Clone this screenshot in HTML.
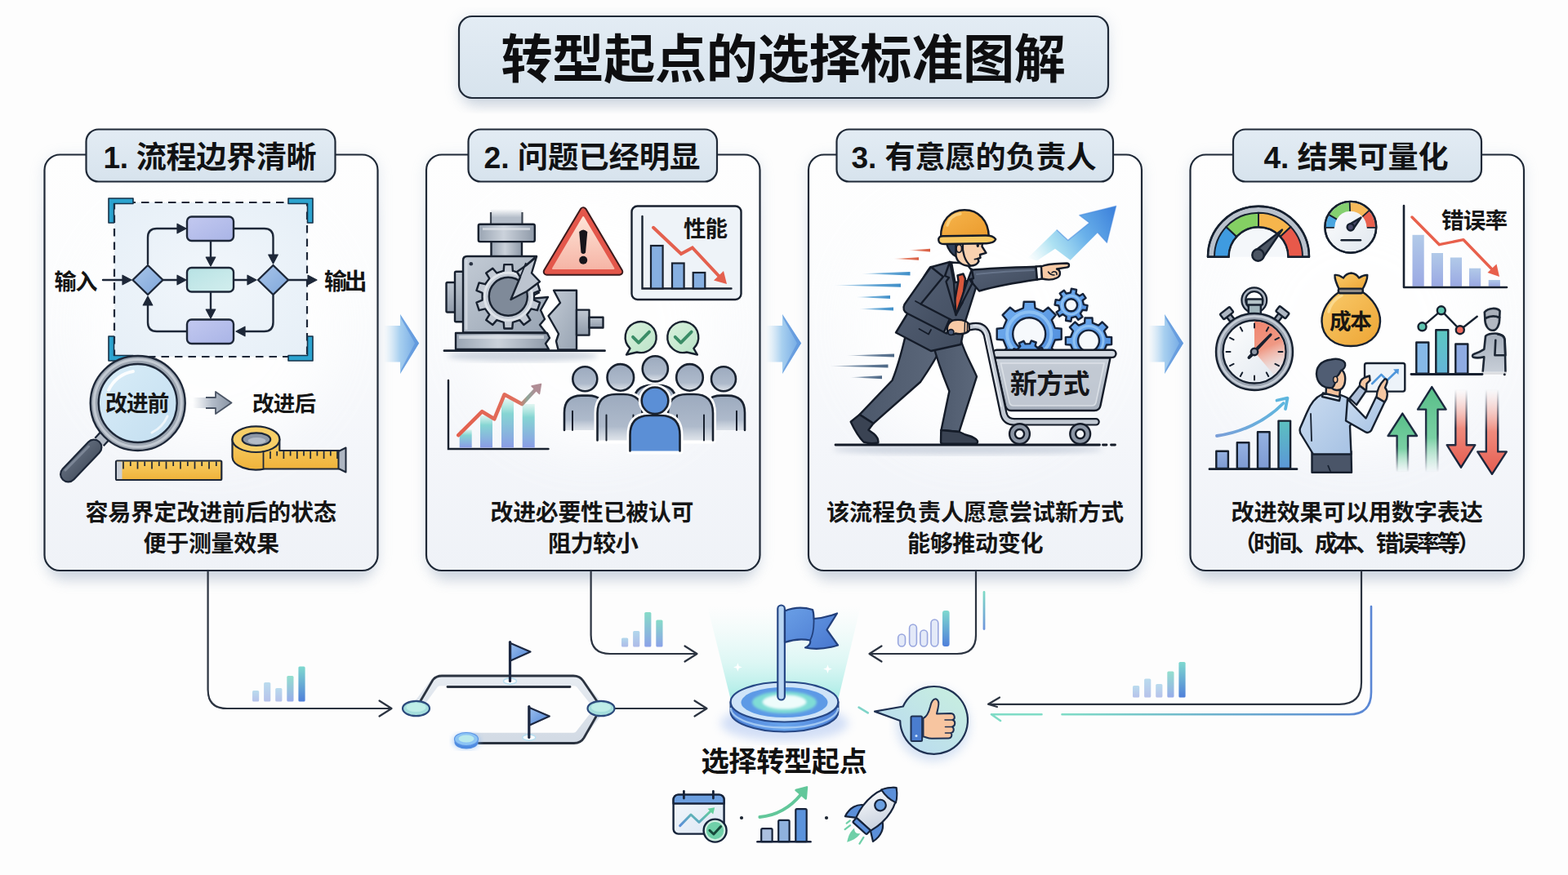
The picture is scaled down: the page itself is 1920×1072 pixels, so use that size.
<!DOCTYPE html>
<html lang="zh"><head><meta charset="utf-8"><title>转型起点的选择标准图解</title>
<style>html,body{margin:0;padding:0;background:#fdfdfd;font-family:"Liberation Sans","Noto Sans CJK SC",sans-serif}
svg{display:block}.t{stroke:none;font-family:"Liberation Sans","Noto Sans CJK SC",sans-serif;font-weight:bold}</style></head>
<body><svg width="1920" height="1072" viewBox="0 0 1920 1072">
<defs>
<linearGradient id="gPanel" x1="0" y1="0" x2="0" y2="1"><stop offset="0" stop-color="#fefefe"/><stop offset=".35" stop-color="#fbfcfd"/><stop offset=".7" stop-color="#f4f6fa"/><stop offset="1" stop-color="#eff2f7"/></linearGradient>
<linearGradient id="gTab" x1="0" y1="0" x2="0" y2="1"><stop offset="0" stop-color="#e3ecf4"/><stop offset="1" stop-color="#d7e3ed"/></linearGradient>
<linearGradient id="gArrow" x1="0" y1="0" x2="1" y2="0"><stop offset="0" stop-color="#b9d8f0" stop-opacity="0"/><stop offset=".45" stop-color="#9fcbee" stop-opacity=".9"/><stop offset="1" stop-color="#6aa3e2"/></linearGradient>
<filter id="fShadow" x="-10%" y="-10%" width="120%" height="125%"><feGaussianBlur in="SourceAlpha" stdDeviation="9"/><feOffset dy="8"/><feComponentTransfer><feFuncA type="linear" slope=".30"/></feComponentTransfer><feFlood flood-color="#7f93b3" result="c"/><feComposite in="c" in2="SourceAlpha" operator="in"/></filter>
<filter id="fBlur30" x="-30%" y="-30%" width="160%" height="160%"><feGaussianBlur stdDeviation="32"/></filter>
<filter id="fBlur8" x="-10%" y="-10%" width="120%" height="120%"><feGaussianBlur stdDeviation="8"/></filter>
<filter id="fBlur6"><feGaussianBlur stdDeviation="6"/></filter>
<filter id="fBlur3"><feGaussianBlur stdDeviation="3"/></filter>
<filter id="fBlur2"><feGaussianBlur stdDeviation="1.6"/></filter>

<linearGradient id="gMini" x1="0" y1="0" x2="0" y2="1"><stop offset="0" stop-color="#79d8c2"/><stop offset="1" stop-color="#7f97e6"/></linearGradient>
<linearGradient id="gMiniL" x1="0" y1="0" x2="0" y2="1"><stop offset="0" stop-color="#a9d3ea"/><stop offset="1" stop-color="#a5b3e6"/></linearGradient>
<linearGradient id="gMiniS" x1="0" y1="0" x2="0" y2="1"><stop offset="0" stop-color="#7fd9cf"/><stop offset="1" stop-color="#4f7fda"/></linearGradient>
<linearGradient id="gTeal4" x1="0" y1="0" x2="1" y2="0"><stop offset="0" stop-color="#7fdcc6"/><stop offset="1" stop-color="#5a86d4"/></linearGradient>
<linearGradient id="gTeal3" x1="0" y1="0" x2="0" y2="1"><stop offset="0" stop-color="#7fdcc6"/><stop offset="1" stop-color="#6d93dc"/></linearGradient>
<linearGradient id="gCone" x1="0" y1="1" x2="0" y2="0"><stop offset="0" stop-color="#8fe6de" stop-opacity=".8"/><stop offset=".4" stop-color="#b0eee8" stop-opacity=".42"/><stop offset="1" stop-color="#d0f5f2" stop-opacity="0"/></linearGradient>
<linearGradient id="gDiscSide" x1="0" y1="0" x2="1" y2="0"><stop offset="0" stop-color="#4d80d6"/><stop offset=".5" stop-color="#6aa6ee"/><stop offset="1" stop-color="#4d80d6"/></linearGradient>
<linearGradient id="gFlag" x1="0" y1="0" x2="1" y2="1"><stop offset="0" stop-color="#6a9fe6"/><stop offset="1" stop-color="#4877cf"/></linearGradient>
<linearGradient id="gFlagS" x1="0" y1="0" x2="1" y2="1"><stop offset="0" stop-color="#9cc0ee"/><stop offset="1" stop-color="#4f84d6"/></linearGradient>
<linearGradient id="gBubble" x1="1" y1="0" x2="0" y2="1"><stop offset="0" stop-color="#c9f0de"/><stop offset="1" stop-color="#b6d6f3"/></linearGradient>
<linearGradient id="gTrack" x1="0" y1="0" x2="0" y2="1"><stop offset="0" stop-color="#e6ebf1"/><stop offset="1" stop-color="#d3dbe5"/></linearGradient>

<linearGradient id="gZig" x1="0" y1="1" x2="1" y2="0"><stop offset="0" stop-color="#5b8fd9"/><stop offset="1" stop-color="#62cf9c"/></linearGradient>
<linearGradient id="gRocket" x1="0" y1="0" x2="1" y2="1"><stop offset="0" stop-color="#ffffff"/><stop offset="1" stop-color="#c5cfdd"/></linearGradient>
<linearGradient id="gCal" x1="0" y1="0" x2="1" y2="1"><stop offset="0" stop-color="#f4f8fc"/><stop offset="1" stop-color="#dbe6f3"/></linearGradient>

<linearGradient id="gLens" x1="0" y1="0" x2="1" y2="1"><stop offset="0" stop-color="#d9edf8"/><stop offset="1" stop-color="#c3def0"/></linearGradient>
<linearGradient id="gHandle" x1="0" y1="0" x2="1" y2="1"><stop offset="0" stop-color="#6b7687"/><stop offset="1" stop-color="#3f4958"/></linearGradient>
<linearGradient id="gPurple" x1="0" y1="0" x2="1" y2="1"><stop offset="0" stop-color="#c3c9f0"/><stop offset="1" stop-color="#a9b4e6"/></linearGradient>
<linearGradient id="gTealBox" x1="0" y1="0" x2="1" y2="1"><stop offset="0" stop-color="#b7e2e4"/><stop offset="1" stop-color="#d3eeee"/></linearGradient>
<linearGradient id="gDia" x1="0" y1="0" x2="1" y2="1"><stop offset="0" stop-color="#a9c6ea"/><stop offset="1" stop-color="#7fa6da"/></linearGradient>
<linearGradient id="gGrayArrow" x1="0" y1="0" x2="1" y2="0"><stop offset="0" stop-color="#b9c2ce" stop-opacity="0"/><stop offset=".5" stop-color="#b3bcc9"/><stop offset="1" stop-color="#8893a3"/></linearGradient>
<linearGradient id="gYellow" x1="0" y1="0" x2="0" y2="1"><stop offset="0" stop-color="#f8cd62"/><stop offset="1" stop-color="#efb23a"/></linearGradient>
<radialGradient id="gDash" cx=".5" cy=".5" r=".7"><stop offset="0" stop-color="#f1f6fb"/><stop offset="1" stop-color="#e6eff7"/></radialGradient>

<linearGradient id="gSteel" x1="0" y1="0" x2="1" y2="1"><stop offset="0" stop-color="#c3cbd5"/><stop offset="1" stop-color="#98a4b3"/></linearGradient>
<linearGradient id="gSteelH" x1="0" y1="0" x2="1" y2="0"><stop offset="0" stop-color="#9aa5b3"/><stop offset=".45" stop-color="#cbd2db"/><stop offset="1" stop-color="#8e99a8"/></linearGradient>
<linearGradient id="gSteelV" x1="0" y1="0" x2="0" y2="1"><stop offset="0" stop-color="#c0c8d2"/><stop offset="1" stop-color="#8f9aa9"/></linearGradient>
<linearGradient id="gPipeTop" x1="0" y1="0" x2="0" y2="1"><stop offset="0" stop-color="#b4bdc9" stop-opacity="0"/><stop offset=".5" stop-color="#b4bdc9" stop-opacity="1"/></linearGradient>
<linearGradient id="gWarn" x1="0" y1="0" x2="0" y2="1"><stop offset="0" stop-color="#fde3d6"/><stop offset="1" stop-color="#f6b5a6"/></linearGradient>
<linearGradient id="gGrowBar" x1="0" y1="0" x2="0" y2="1"><stop offset="0" stop-color="#8fe0cf" stop-opacity=".25"/><stop offset=".3" stop-color="#86d5d3"/><stop offset="1" stop-color="#8a9ce6"/></linearGradient>
<linearGradient id="gPerson" x1="0" y1="0" x2="0" y2="1"><stop offset="0" stop-color="#9caabe"/><stop offset=".7" stop-color="#aebacb"/><stop offset="1" stop-color="#c3ccd8" stop-opacity=".55"/></linearGradient>
<linearGradient id="gChk" x1="0" y1="0" x2="1" y2="1"><stop offset="0" stop-color="#d9f1dc"/><stop offset="1" stop-color="#b9e3c8"/></linearGradient>
<linearGradient id="gRedLine" x1="0" y1="0" x2="1" y2="0"><stop offset="0" stop-color="#e4604e"/><stop offset=".78" stop-color="#e0705e"/><stop offset=".9" stop-color="#8fa79a"/><stop offset="1" stop-color="#b08d95"/></linearGradient>

<linearGradient id="gBlueArrow" gradientUnits="userSpaceOnUse" x1="1258" y1="318" x2="1362" y2="256"><stop offset="0" stop-color="#bfeaf4" stop-opacity="0"/><stop offset=".3" stop-color="#9fdcf0" stop-opacity=".85"/><stop offset=".62" stop-color="#6ab1ea"/><stop offset="1" stop-color="#3f84dc"/></linearGradient>
<linearGradient id="gHelmet" x1="0" y1="0" x2="1" y2="1"><stop offset="0" stop-color="#f7b64e"/><stop offset="1" stop-color="#ea9a2c"/></linearGradient>
<linearGradient id="gSuit" x1="0" y1="0" x2="1" y2="1"><stop offset="0" stop-color="#566277"/><stop offset="1" stop-color="#3f4a5c"/></linearGradient>
<linearGradient id="gPants" x1="0" y1="0" x2="1" y2="0"><stop offset="0" stop-color="#4c586b"/><stop offset="1" stop-color="#5c687b"/></linearGradient>
<linearGradient id="gCart" x1="0" y1="0" x2="0" y2="1"><stop offset="0" stop-color="#c9d0d9"/><stop offset="1" stop-color="#a5aebb"/></linearGradient>
<linearGradient id="gGear" x1="0" y1="0" x2="1" y2="1"><stop offset="0" stop-color="#73aff0"/><stop offset="1" stop-color="#4c8ada"/></linearGradient>
<linearGradient id="gSpB" x1="0" y1="0" x2="1" y2="0"><stop offset="0" stop-color="#4f9bd0" stop-opacity=".15"/><stop offset=".45" stop-color="#4f9bd0" stop-opacity=".8"/><stop offset="1" stop-color="#3f8ec8"/></linearGradient>
<linearGradient id="gSpR" x1="0" y1="0" x2="1" y2="0"><stop offset="0" stop-color="#e0684a" stop-opacity=".15"/><stop offset=".45" stop-color="#e0684a" stop-opacity=".8"/><stop offset="1" stop-color="#d85a3e"/></linearGradient>
<linearGradient id="gSpD" x1="0" y1="0" x2="1" y2="0"><stop offset="0" stop-color="#54708f" stop-opacity=".15"/><stop offset=".45" stop-color="#54708f" stop-opacity=".8"/><stop offset="1" stop-color="#4d6785"/></linearGradient>

<linearGradient id="gUp" x1="0" y1="0" x2="0" y2="1"><stop offset="0" stop-color="#58be88"/><stop offset=".6" stop-color="#7ad0a4"/><stop offset="1" stop-color="#a9e4c8" stop-opacity="0"/></linearGradient>
<linearGradient id="gUpS" x1="0" y1="0" x2="0" y2="1"><stop offset="0" stop-color="#16233a"/><stop offset=".55" stop-color="#16233a" stop-opacity=".9"/><stop offset="1" stop-color="#16233a" stop-opacity="0"/></linearGradient>
<linearGradient id="gDn" x1="0" y1="1" x2="0" y2="0"><stop offset="0" stop-color="#e55c50"/><stop offset=".5" stop-color="#ef8a7c"/><stop offset="1" stop-color="#f8c0b6" stop-opacity="0"/></linearGradient>
<linearGradient id="gDnS" x1="0" y1="1" x2="0" y2="0"><stop offset="0" stop-color="#16233a"/><stop offset=".5" stop-color="#16233a" stop-opacity=".9"/><stop offset="1" stop-color="#16233a" stop-opacity="0"/></linearGradient>
<linearGradient id="gBag" x1="0" y1="0" x2="1" y2="1"><stop offset="0" stop-color="#f9cb6c"/><stop offset="1" stop-color="#eda433"/></linearGradient>
<linearGradient id="gErrBar" x1="0" y1="0" x2="0" y2="1"><stop offset="0" stop-color="#a9c4e6"/><stop offset="1" stop-color="#8f9fe0"/></linearGradient>
<linearGradient id="gWedge" x1="0" y1="0" x2=".25" y2="1"><stop offset="0" stop-color="#ee7a62"/><stop offset=".55" stop-color="#f0917a"/><stop offset="1" stop-color="#f6c4b6" stop-opacity=".25"/></linearGradient>
<linearGradient id="gFace" x1="0" y1="0" x2="1" y2="1"><stop offset="0" stop-color="#ffffff"/><stop offset="1" stop-color="#dfe6ee"/></linearGradient>
<linearGradient id="gShirt" x1="0" y1="0" x2="1" y2="1"><stop offset="0" stop-color="#cbdcf0"/><stop offset="1" stop-color="#a5c1e3"/></linearGradient>
<linearGradient id="gBarA" x1="0" y1="0" x2="0" y2="1"><stop offset="0" stop-color="#96b2e2"/><stop offset="1" stop-color="#7d9ad2"/></linearGradient>
<linearGradient id="gBarT" x1="0" y1="0" x2="0" y2="1"><stop offset="0" stop-color="#5cc0c0"/><stop offset="1" stop-color="#5b97d8"/></linearGradient>
<linearGradient id="gBarT2" x1="0" y1="0" x2="0" y2="1"><stop offset="0" stop-color="#5cc8c2"/><stop offset="1" stop-color="#64b4d8"/></linearGradient>
<linearGradient id="gCurve" x1="0" y1="0" x2="1" y2="0"><stop offset="0" stop-color="#7a9ed8"/><stop offset="1" stop-color="#5fb6de"/></linearGradient>
<linearGradient id="gGrayP" x1="0" y1="0" x2="0" y2="1"><stop offset="0" stop-color="#a4adba"/><stop offset="1" stop-color="#c9d0d9"/></linearGradient>
</defs>
<rect width="1920" height="1072" fill="#fdfdfd"/>
<rect x="559" y="20" width="801" height="106" rx="19" fill="#93abc6" opacity="0.22" filter="url(#fBlur8)"/>
<rect x="568" y="40" width="783" height="90" rx="16" fill="#8b9bb2" opacity="0.3" filter="url(#fBlur8)"/>
<rect x="562" y="20" width="795" height="100" rx="16" fill="url(#gTab)" stroke="#1f2937" stroke-width="2.2"/>
<text x="613.5" y="94.8" font-size="63.2" textLength="691.5" fill="#0e0e10" class="t">转型起点的选择标准图解</text>
<rect x="51.5" y="189.5" width="414" height="515.5" rx="23" fill="#93abc6" opacity="0.2" filter="url(#fBlur8)"/>
<rect x="60.5" y="242.5" width="396" height="469.5" rx="20" fill="#8b9bb2" opacity="0.3" filter="url(#fBlur8)"/>
<rect x="519" y="189.5" width="414.5" height="515.5" rx="23" fill="#93abc6" opacity="0.2" filter="url(#fBlur8)"/>
<rect x="528" y="242.5" width="396.5" height="469.5" rx="20" fill="#8b9bb2" opacity="0.3" filter="url(#fBlur8)"/>
<rect x="987" y="189.5" width="414" height="515.5" rx="23" fill="#93abc6" opacity="0.2" filter="url(#fBlur8)"/>
<rect x="996" y="242.5" width="396" height="469.5" rx="20" fill="#8b9bb2" opacity="0.3" filter="url(#fBlur8)"/>
<rect x="1454.5" y="189.5" width="414.5" height="515.5" rx="23" fill="#93abc6" opacity="0.2" filter="url(#fBlur8)"/>
<rect x="1463.5" y="242.5" width="396.5" height="469.5" rx="20" fill="#8b9bb2" opacity="0.3" filter="url(#fBlur8)"/>
<rect x="54.5" y="189.5" width="408" height="509.5" rx="19" fill="url(#gPanel)" stroke="#1f2937" stroke-width="2.2"/>
<rect x="522" y="189.5" width="408.5" height="509.5" rx="19" fill="url(#gPanel)" stroke="#1f2937" stroke-width="2.2"/>
<rect x="990" y="189.5" width="408" height="509.5" rx="19" fill="url(#gPanel)" stroke="#1f2937" stroke-width="2.2"/>
<rect x="1457.5" y="189.5" width="408.5" height="509.5" rx="19" fill="url(#gPanel)" stroke="#1f2937" stroke-width="2.2"/>
<ellipse cx="258.5" cy="400" rx="150" ry="150" fill="#ffffff" opacity=".85" filter="url(#fBlur30)"/>
<ellipse cx="726.25" cy="400" rx="150" ry="150" fill="#ffffff" opacity=".85" filter="url(#fBlur30)"/>
<ellipse cx="1194" cy="400" rx="150" ry="150" fill="#ffffff" opacity=".85" filter="url(#fBlur30)"/>
<ellipse cx="1661.75" cy="400" rx="150" ry="150" fill="#ffffff" opacity=".85" filter="url(#fBlur30)"/>
<rect x="105.5" y="158.5" width="305" height="64" rx="15" fill="url(#gTab)" stroke="#1f2937" stroke-width="2.2"/>
<text x="126.5" y="205.8" font-size="37.1" textLength="261.0" fill="#111214" class="t">1. 流程边界清晰</text>
<rect x="573.5" y="158.5" width="304.5" height="64" rx="15" fill="url(#gTab)" stroke="#1f2937" stroke-width="2.2"/>
<text x="592.5" y="206.0" font-size="37.4" textLength="265.0" fill="#111214" class="t">2. 问题已经明显</text>
<rect x="1024.5" y="158.5" width="338.5" height="64" rx="15" fill="url(#gTab)" stroke="#1f2937" stroke-width="2.2"/>
<text x="1042.5" y="206.0" font-size="37.1" textLength="300.0" fill="#111214" class="t">3. 有意愿的负责人</text>
<rect x="1510" y="158.5" width="304" height="64" rx="15" fill="url(#gTab)" stroke="#1f2937" stroke-width="2.2"/>
<text x="1547.5" y="206.0" font-size="37.1" textLength="226.0" fill="#111214" class="t">4. 结果可量化</text>
<path d="M470 399 H490 V385 L513 420.5 L490 458 V443.5 H470 Z" fill="url(#gArrow)"/><path d="M490 385 L513 420.5 L490 458 L491.5 452 L508 420.5 L491.5 391 Z" fill="#5f96dc" opacity=".75"/>
<path d="M938 399 H958 V385 L981 420.5 L958 458 V443.5 H938 Z" fill="url(#gArrow)"/><path d="M958 385 L981 420.5 L958 458 L959.5 452 L976 420.5 L959.5 391 Z" fill="#5f96dc" opacity=".75"/>
<path d="M1406 399 H1426 V385 L1449 420.5 L1426 458 V443.5 H1406 Z" fill="url(#gArrow)"/><path d="M1426 385 L1449 420.5 L1426 458 L1427.5 452 L1444 420.5 L1427.5 391 Z" fill="#5f96dc" opacity=".75"/>
<text x="104.4" y="638.0" font-size="28.1" textLength="307.6" fill="#151515" class="t">容易界定改进前后的状态</text>
<text x="175.5" y="676.2" font-size="28.0" textLength="166.5" fill="#151515" class="t">便于测量效果</text>
<text x="600.5" y="637.8" font-size="27.9" textLength="249.0" fill="#151515" class="t">改进必要性已被认可</text>
<text x="671.0" y="676.4" font-size="28.4" textLength="111.0" fill="#151515" class="t">阻力较小</text>
<text x="1012.0" y="638.0" font-size="28.1" textLength="364.0" fill="#151515" class="t">该流程负责人愿意尝试新方式</text>
<text x="1111.0" y="676.3" font-size="28.1" textLength="166.5" fill="#151515" class="t">能够推动变化</text>
<text x="1507.5" y="638.0" font-size="28.2" textLength="308.5" fill="#151515" class="t">改进效果可以用数字表达</text>
<text x="1510.0" y="676.3" font-size="28.4" textLength="303.0" fill="#151515" class="t">（时间、成本、错误率等）</text>
<text x="858.5" y="944.6" font-size="34.3" textLength="203.5" fill="#111" class="t">选择转型起点</text>
<g id="bottom"><g fill="none" stroke="#2b3340" stroke-width="2.2" stroke-linecap="round" stroke-linejoin="round"><path d="M254.6 700 V845 Q254.6 868 278 868 H478"/><path d="M464.5 858.5 L479.5 868 L464.5 877.5"/><path d="M723.6 700 V778 Q723.6 801 747 801 H852"/><path d="M838.5 791.5 L853.5 801 L838.5 810.5"/><path d="M753 868 H864"/><path d="M850.5 858.5 L865.5 868 L850.5 877.5"/><path d="M1195 700 V778 Q1195 801 1172 801 H1066"/><path d="M1079.5 791.5 L1064.5 801 L1079.5 810.5"/><path d="M1667 700 V836 Q1667 862.8 1640 862.8 H1211"/><path d="M1224 854.5 L1210 862.8 L1221 866"/></g><path d="M1679 743 V848 Q1679 875.3 1652 875.3 H1300.5" fill="none" stroke="url(#gTeal4)" stroke-width="2.6" stroke-linecap="round"/><path d="M1275.5 875.3 H1214 M1214 875.3 L1225 883" fill="none" stroke="#7fdcc6" stroke-width="2.6" stroke-linecap="round"/><rect x="1203.6" y="724" width="2.8" height="48" rx="1.4" fill="url(#gTeal3)"/><path d="M1051.6 866.7 L1062.8 873.4" stroke="#7fd4c8" stroke-width="2.6" stroke-linecap="round"/><rect x="309.0" y="846.0" width="8.2" height="13.5" rx="1.6" fill="url(#gMiniL)" opacity="0.8"/><rect x="323.1" y="836.0" width="8.2" height="23.5" rx="1.6" fill="url(#gMiniL)" opacity="0.8"/><rect x="337.2" y="843.0" width="8.2" height="16.5" rx="1.6" fill="url(#gMiniL)" opacity="0.8"/><rect x="351.3" y="828.0" width="8.2" height="31.5" rx="1.6" fill="url(#gMini)" opacity="0.8"/><rect x="365.4" y="816.5" width="8.2" height="43.0" rx="1.6" fill="url(#gMiniS)" opacity="1"/><rect x="761.0" y="781.5" width="8.2" height="11.0" rx="1.6" fill="url(#gMiniL)" opacity="0.9"/><rect x="775.1" y="773.0" width="8.2" height="19.5" rx="1.6" fill="url(#gMiniL)" opacity="0.9"/><rect x="789.2" y="750.0" width="8.2" height="42.5" rx="1.6" fill="url(#gMini)" opacity="0.9"/><rect x="803.3" y="759.5" width="8.2" height="33.0" rx="1.6" fill="url(#gMini)" opacity="0.9"/><rect x="1387.0" y="840.0" width="8.2" height="14.5" rx="1.6" fill="url(#gMiniL)" opacity="0.8"/><rect x="1401.1" y="831.5" width="8.2" height="23.0" rx="1.6" fill="url(#gMiniL)" opacity="0.8"/><rect x="1415.2" y="838.0" width="8.2" height="16.5" rx="1.6" fill="url(#gMiniL)" opacity="0.8"/><rect x="1429.3" y="822.5" width="8.2" height="32.0" rx="1.6" fill="url(#gMini)" opacity="0.8"/><rect x="1443.4" y="811.0" width="8.2" height="43.5" rx="1.6" fill="url(#gMiniS)" opacity="1"/><rect x="1099.7" y="777.0" width="8.8" height="15.0" rx="4.4" fill="#e4eaf8" stroke="#98a6de" stroke-width="1.6"/><rect x="1113.6" y="765.0" width="8.8" height="27.0" rx="4.4" fill="#e4eaf8" stroke="#98a6de" stroke-width="1.6"/><rect x="1126.8" y="772.0" width="8.8" height="20.0" rx="4.4" fill="#e4eaf8" stroke="#98a6de" stroke-width="1.6"/><rect x="1140.0" y="759.0" width="8.8" height="33.0" rx="4.4" fill="#e4eaf8" stroke="#98a6de" stroke-width="1.6"/><rect x="1154.0" y="748.0" width="8.6" height="44.0" rx="3" fill="url(#gMiniS)"/><path d="M509 868 L531 838 Q534 834.3 540 834.3 H702 Q708 834.3 711 838 L735 868 L711 899 Q708 903.8 702 903.8 H572" fill="none" stroke="url(#gTrack)" stroke-width="12" stroke-linejoin="round" stroke-linecap="round"/><path d="M513 862 L530 833 Q534 828 541 828 H702 Q710 828 714 834 L733 862" fill="none" stroke="#2b3340" stroke-width="2.8" stroke-linecap="round"/><path d="M548 841.5 H698" fill="none" stroke="#2b3340" stroke-width="2.8" stroke-linecap="round"/><path d="M731 876 L715 904 Q711 910.5 703 910.5 H586" fill="none" stroke="#2b3340" stroke-width="2.8" stroke-linecap="round"/><ellipse cx="509.5" cy="868" rx="16.5" ry="9.2" fill="#a5dedd" stroke="#2c4a7c" stroke-width="2.2"/><ellipse cx="509.5" cy="866.5" rx="12" ry="5.6" fill="#bfeee8"/><ellipse cx="736" cy="868" rx="16.5" ry="9.2" fill="#a5dedd" stroke="#2c4a7c" stroke-width="2.2"/><ellipse cx="736" cy="866.5" rx="12" ry="5.6" fill="#bfeee8"/><ellipse cx="571" cy="908" rx="17" ry="10" fill="#7db2f2" opacity=".55" filter="url(#fBlur3)"/><ellipse cx="571" cy="909.5" rx="14.5" ry="8" fill="#4f8be0"/><ellipse cx="571" cy="905.5" rx="14.5" ry="8" fill="#8cc4f4" stroke="#5b95e6" stroke-width="1.2"/><ellipse cx="571" cy="905" rx="9.5" ry="4.6" fill="#b9e9ec"/><ellipse cx="624.5" cy="834.5" rx="8" ry="3.6" fill="#fff" stroke="#b9dff0" stroke-width="1.6"/><path d="M624.5 786.5 V834.5" stroke="#1c2740" stroke-width="3.2" stroke-linecap="round"/><path d="M625.1 788 L649.5 798.5 L625.1 809.5 Z" fill="url(#gFlagS)" stroke="#1c2740" stroke-width="2.2" stroke-linejoin="round"/><ellipse cx="647.8" cy="903.5" rx="8" ry="3.6" fill="#fff" stroke="#b9dff0" stroke-width="1.6"/><path d="M647.8 865.5 V903.5" stroke="#1c2740" stroke-width="3.2" stroke-linecap="round"/><path d="M648.4 867 L672.8 877.5 L648.4 888.5 Z" fill="url(#gFlagS)" stroke="#1c2740" stroke-width="2.2" stroke-linejoin="round"/><ellipse cx="960.5" cy="886" rx="78" ry="22" fill="#9db9ee" opacity=".45" filter="url(#fBlur6)"/><path d="M895 858 L866 742 H1054 L1026 858 Z" fill="url(#gCone)"/><path d="M894.6 860 V872 A65.9 24.5 0 0 0 1026.4 872 V860 Z" fill="url(#gDiscSide)" stroke="#274886" stroke-width="2.2" stroke-linejoin="round"/><ellipse cx="960.5" cy="860" rx="65.9" ry="24.5" fill="#cfe4f8" stroke="#274886" stroke-width="2.2"/><ellipse cx="960.5" cy="860.5" rx="53" ry="18.6" fill="#5d9ae6"/><ellipse cx="960.5" cy="860.5" rx="39.5" ry="13.6" fill="#7fdcd6" filter="url(#fBlur2)"/><ellipse cx="960.5" cy="860" rx="27" ry="8.8" fill="#eefcfb" filter="url(#fBlur2)"/><path d="M894.6 867 A65.9 24.5 0 0 0 1026.4 867" fill="none" stroke="#a9cdf4" stroke-width="2.4" opacity=".9"/><rect x="952.3" y="741.5" width="8.6" height="116" rx="4.3" fill="#b9d6f3" stroke="#274886" stroke-width="2.2"/><path d="M961 748.5 C972 744 985 744 995 747 C996.5 751 996.5 755 996.5 758 C1006 757.5 1016 755 1025 751.5 L1012.5 771.5 L1026 790.5 C1012 795 998 796 986 793.5 C991 791 993 788 992 784.5 C982 782.5 971 783.5 961 787 Z" fill="url(#gFlag)" stroke="#22407c" stroke-width="2.2" stroke-linejoin="round"/><path d="M996.5 758 C996.8 768 996 777 992 784.5" fill="none" stroke="#22407c" stroke-width="1.8"/><path d="M903.4 812 l1.4 4 l4 1.4 l-4 1.4 l-1.4 4 l-1.4 -4 l-4 -1.4 l4 -1.4 Z" fill="#fff" opacity=".95"/><path d="M1013.5 814.2 l1.4 4 l4 1.4 l-4 1.4 l-1.4 4 l-1.4 -4 l-4 -1.4 l4 -1.4 Z" fill="#fff" opacity=".95"/><g transform="translate(-1 2)"><circle cx="1143.4" cy="886" r="45" fill="#a9c3e8" opacity=".45" filter="url(#fBlur6)"/><path d="M1106.8 863.5 A41.4 41.4 0 1 1 1103.2 881 L1072 869.6 Z" fill="url(#gBubble)" stroke="#1f3152" stroke-width="2.2" stroke-linejoin="round"/><rect x="1116.5" y="875.6" width="13.6" height="30.4" rx="1.5" fill="#4a7dd0" stroke="#1f3152" stroke-width="2"/><circle cx="1123" cy="899.5" r="1.5" fill="#cfe6ff"/><path d="M1131.5 878 C1136 876 1138.5 870 1140 864 C1141 858 1144 853.5 1147.5 854.5 C1151 856 1150.5 862 1149.5 866 L1148 872.5 L1165 872 C1170 872 1171.5 878.5 1167.5 880 C1171.5 881.5 1171 887.5 1167 888.5 C1170 890.5 1169 895.5 1165.5 896 C1167.5 898.5 1166 902.5 1162.5 902.5 L1142 902.8 C1137 902.8 1135 901 1131.5 900.5 Z" fill="#f7c5a0" stroke="#1f3152" stroke-width="2" stroke-linejoin="round"/><path d="M1167.5 880 H1158 M1167 888.5 H1158.5 M1165.5 896 H1158.5" stroke="#1f3152" stroke-width="1.6" stroke-linecap="round"/></g></g>
<g id="icons"><rect x="824.6" y="973.6" width="62" height="48" rx="6" fill="url(#gCal)" stroke="#16233a" stroke-width="2.4"/><path d="M824.6 984.5 V979.6 a6 6 0 0 1 6 -6 H880.6 a6 6 0 0 1 6 6 V984.5 Z" fill="#6c9fe0" stroke="#16233a" stroke-width="2.4" stroke-linejoin="round"/><path d="M837.4 969.3 V978 M873.4 969.3 V978" stroke="#16233a" stroke-width="2.8" stroke-linecap="round"/><path d="M832.7 1011.6 L846 998 L856 1007.3 L871 993" fill="none" stroke="url(#gZig)" stroke-width="3" stroke-linecap="round" stroke-linejoin="round"/><path d="M866.5 990.8 L875.2 989.2 L873.2 997.6 Z" fill="#62cf9c"/><circle cx="875.6" cy="1017.6" r="14" fill="#cfeee0" stroke="#16233a" stroke-width="2.4"/><circle cx="875.6" cy="1017.6" r="10.6" fill="#6fd0a8"/><path d="M869 1017.3 L873.9 1022 L882.6 1012.6" fill="none" stroke="#17483a" stroke-width="3" stroke-linecap="round" stroke-linejoin="round"/><circle cx="908" cy="1002" r="2.1" fill="#1b2430"/><circle cx="1012" cy="1002" r="2.1" fill="#1b2430"/><rect x="932.2" y="1015.2" width="13.4" height="16" rx="1.5" fill="#abc0e0" stroke="#16233a" stroke-width="2.2"/><rect x="953.2" y="1004.8" width="13.4" height="26.4" rx="1.5" fill="#8fb1dd" stroke="#16233a" stroke-width="2.2"/><rect x="974.3" y="991.2" width="13.4" height="40" rx="1.5" fill="#5b93dc" stroke="#16233a" stroke-width="2.2"/><path d="M927.5 1031.3 H992.5" stroke="#16233a" stroke-width="2.6" stroke-linecap="round"/><path d="M930.3 1001 C952 999 968 989 981 973" fill="none" stroke="#62c79a" stroke-width="3.8" stroke-linecap="round"/><path d="M974.5 968 L988 964.3 L986.8 978.5 Z" fill="#62c79a" stroke="#62c79a" stroke-width="2.4" stroke-linejoin="round"/><g transform="translate(1074 991) rotate(42)"><path d="M-13 6 C-23 11 -26 22 -23 33 L-10 24 Z" fill="#5b8fd9" stroke="#16233a" stroke-width="2.2" stroke-linejoin="round"/><path d="M13 6 C23 11 26 22 23 33 L10 24 Z" fill="#5b8fd9" stroke="#16233a" stroke-width="2.2" stroke-linejoin="round"/><path d="M0 -35 C17 -22 19 4 12 25 H-12 C-19 4 -17 -22 0 -35 Z" fill="url(#gRocket)" stroke="#16233a" stroke-width="2.2" stroke-linejoin="round"/><path d="M0 -35 C5.500 -31 9.500 -26 12 -21 C5 -19 -5 -19 -12 -21 C-9.500 -26 -5.500 -31 0 -35 Z" fill="#5b8fd9" stroke="#16233a" stroke-width="2" stroke-linejoin="round"/><circle cx="0" cy="-6" r="6.800" fill="#6a9fe0" stroke="#16233a" stroke-width="2.2"/><rect x="-11.500" y="25" width="23" height="7" rx="1.500" fill="#5b8fd9" stroke="#16233a" stroke-width="2.2"/><path d="M-5 36 C-6 44 -3 50 0 55 C3 50 6 44 5 36 C2 40 -2 40 -5 36 Z" fill="#6fcfa8"/><path d="M-11 37 L-12.500 45 M11 37 L12.500 46 M-15 33 L-16 38" stroke="#6fcfa8" stroke-width="2.2" stroke-linecap="round"/></g></g>
<g id="p1"><rect x="140" y="248" width="236" height="189" fill="url(#gDash)"/><rect x="140" y="248" width="236" height="189" fill="none" stroke="#1d2738" stroke-width="2.2" stroke-dasharray="9.500 7"/><path d="M133 243 h30 v6.5 h-23.5 v23.5 h-6.5 Z" fill="#2ba3cf" stroke="#16324a" stroke-width="1.6" stroke-linejoin="round"/><path d="M383 243 h-30 v6.5 h23.5 v23.5 h6.5 Z" fill="#2ba3cf" stroke="#16324a" stroke-width="1.6" stroke-linejoin="round"/><path d="M133 442 h30 v-6.5 h-23.5 v-23.5 h-6.5 Z" fill="#2ba3cf" stroke="#16324a" stroke-width="1.6" stroke-linejoin="round"/><path d="M383 442 h-30 v-6.5 h23.5 v-23.5 h6.5 Z" fill="#2ba3cf" stroke="#16324a" stroke-width="1.6" stroke-linejoin="round"/><g fill="none" stroke="#1d2738" stroke-width="2.4" stroke-linecap="round" stroke-linejoin="round"><path d="M126 343 H154"/><path d="M352.500 343 H380"/><path d="M181 323 V291 Q181 280 192 280 H221"/><path d="M287 280 H323.500 Q334.500 280 334.500 291 V314"/><path d="M258 296 V318"/><path d="M258 358 V382"/><path d="M200 343 H221"/><path d="M287 343 H306"/><path d="M334.500 362 V395 Q334.500 406 323.500 406 H297"/><path d="M228 406 H192 Q181 406 181 395 V372"/></g><path transform="translate(161 343) rotate(0)" d="M0 0 L-11 -5.800 L-11 5.800 Z" fill="#1d2738" stroke="#1d2738" stroke-width="1.2" stroke-linejoin="round"/><path transform="translate(388 343) rotate(0)" d="M0 0 L-11 -5.800 L-11 5.800 Z" fill="#1d2738" stroke="#1d2738" stroke-width="1.2" stroke-linejoin="round"/><path transform="translate(228 280) rotate(0)" d="M0 0 L-11 -5.800 L-11 5.800 Z" fill="#1d2738" stroke="#1d2738" stroke-width="1.2" stroke-linejoin="round"/><path transform="translate(334.5 323) rotate(90)" d="M0 0 L-11 -5.800 L-11 5.800 Z" fill="#1d2738" stroke="#1d2738" stroke-width="1.2" stroke-linejoin="round"/><path transform="translate(258 326) rotate(90)" d="M0 0 L-11 -5.800 L-11 5.800 Z" fill="#1d2738" stroke="#1d2738" stroke-width="1.2" stroke-linejoin="round"/><path transform="translate(258 390) rotate(90)" d="M0 0 L-11 -5.800 L-11 5.800 Z" fill="#1d2738" stroke="#1d2738" stroke-width="1.2" stroke-linejoin="round"/><path transform="translate(228 343) rotate(0)" d="M0 0 L-11 -5.800 L-11 5.800 Z" fill="#1d2738" stroke="#1d2738" stroke-width="1.2" stroke-linejoin="round"/><path transform="translate(314 343) rotate(0)" d="M0 0 L-11 -5.800 L-11 5.800 Z" fill="#1d2738" stroke="#1d2738" stroke-width="1.2" stroke-linejoin="round"/><path transform="translate(289 406) rotate(180)" d="M0 0 L-11 -5.800 L-11 5.800 Z" fill="#1d2738" stroke="#1d2738" stroke-width="1.2" stroke-linejoin="round"/><path transform="translate(181 363) rotate(-90)" d="M0 0 L-11 -5.800 L-11 5.800 Z" fill="#1d2738" stroke="#1d2738" stroke-width="1.2" stroke-linejoin="round"/><rect x="229" y="265.500" width="57" height="29.500" rx="5.500" fill="url(#gPurple)" stroke="#1d2738" stroke-width="2.4"/><rect x="229" y="328" width="57" height="29.500" rx="5.500" fill="url(#gTealBox)" stroke="#1d2738" stroke-width="2.4"/><rect x="229" y="391.500" width="57" height="29.500" rx="5.500" fill="url(#gPurple)" stroke="#1d2738" stroke-width="2.4"/><path d="M162.5 343 L181 325 L199.5 343 L181 361 Z" fill="url(#gDia)" stroke="#1d2738" stroke-width="2.4" stroke-linejoin="round"/><path d="M316 343 L334.5 325 L353 343 L334.5 361 Z" fill="url(#gDia)" stroke="#1d2738" stroke-width="2.4" stroke-linejoin="round"/><text x="66.5" y="354.6" font-size="27.2" textLength="53.0" fill="#141414" class="t">输入</text><text x="397.0" y="354.9" font-size="27.9" textLength="52.5" fill="#141414" class="t">输出</text><path d="M134 528 L121.500 541.500" stroke="#1d2738" stroke-width="16.500" stroke-linecap="butt"/><path d="M134 528 L121.500 541.500" stroke="#b4bcc7" stroke-width="12" stroke-linecap="butt"/><path d="M115 548 L83.500 581" stroke="#1d2738" stroke-width="21" stroke-linecap="round"/><path d="M115 548 L83.500 581" stroke="url(#gHandle)" stroke-width="16.500" stroke-linecap="round"/><path d="M108.500 547 L80 576" stroke="#8b95a5" stroke-width="3" stroke-linecap="round" opacity=".7"/><circle cx="168.700" cy="494" r="58" fill="#9ca5b1" stroke="#1d2738" stroke-width="2.4"/><circle cx="168.700" cy="494" r="53.500" fill="none" stroke="#c3cad3" stroke-width="3"/><circle cx="168.700" cy="494" r="48" fill="url(#gLens)" stroke="#1d2738" stroke-width="2.400"/><path d="M133 478 A40 40 0 0 1 163 455" fill="none" stroke="#fff" stroke-width="4" stroke-linecap="round" opacity=".9"/><path d="M205 510 A40 40 0 0 1 186 530" fill="none" stroke="#fff" stroke-width="3" stroke-linecap="round" opacity=".7"/><text x="129.0" y="504.3" font-size="26.9" textLength="78.5" fill="#161616" class="t">改进前</text><path d="M236 487 H264 V480 L283.500 493.500 L264 507 V500 H236 Z" fill="url(#gGrayArrow)"/><path d="M252 487 H264 V480 L283.500 493.500 L264 507 V500 H252" fill="none" stroke="#4b5565" stroke-width="1.800" stroke-linejoin="round"/><text x="309.0" y="504.2" font-size="26.6" textLength="78.0" fill="#161616" class="t">改进后</text><rect x="142" y="564.500" width="129.300" height="23.500" rx="1.500" fill="url(#gYellow)" stroke="#1d2738" stroke-width="2.2"/><rect x="143" y="565.600" width="6.500" height="21.300" fill="#c9ced6"/><path d="M151.0 565.500 v9 M159.8 565.500 v5.5 M168.500 565.500 v9 M177.2 565.500 v5.5 M186.0 565.500 v9 M194.8 565.500 v5.5 M203.5 565.500 v9 M212.2 565.500 v5.5 M221.0 565.500 v9 M229.8 565.500 v5.5 M238.5 565.500 v9 M247.2 565.500 v5.5 M256.0 565.500 v9 M264.8 565.500 v5.5 " stroke="#1d2738" stroke-width="1.700"/><path d="M284.500 538.200 V560 A29 15.800 0 0 0 324 574.500 H415 V552 H342.300 V538.200 Z" fill="url(#gYellow)" stroke="#1d2738" stroke-width="2.2" stroke-linejoin="round"/><ellipse cx="313.400" cy="538.200" rx="29" ry="15.800" fill="#f8cf68" stroke="#1d2738" stroke-width="2.2"/><ellipse cx="313.900" cy="538.200" rx="17.300" ry="7.800" fill="#8d97a6" stroke="#1d2738" stroke-width="2.2"/><ellipse cx="314.500" cy="540" rx="11" ry="4" fill="#b4bcc8"/><path d="M322.500 552 V574" stroke="#1d2738" stroke-width="1.800"/><path d="M331.0 553 v9 M339.2 553 v5.5 M347.4 553 v9 M355.6 553 v5.5 M363.8 553 v9 M372.0 553 v5.5 M380.2 553 v9 M388.4 553 v5.5 M396.6 553 v9 M404.8 553 v5.5 M413.0 553 v9 " stroke="#1d2738" stroke-width="1.700"/><path d="M414.500 553 L423.500 548.500 V578.500 L414.500 574 Z" fill="#aeb6c2" stroke="#1d2738" stroke-width="2" stroke-linejoin="round"/></g>
<g id="p2"><ellipse cx="640" cy="436" rx="92" ry="7" fill="#9aa8bd" opacity=".45" filter="url(#fBlur3)"/><rect x="601" y="256" width="38.500" height="21" fill="url(#gPipeTop)"/><path d="M601 277 V260 M639.500 277 V260" stroke="#18212f" stroke-width="2.2" opacity=".8"/><rect x="601.500" y="294" width="37.500" height="22" fill="url(#gSteelH)" stroke="#18212f" stroke-width="2.4" stroke-linejoin="round"/><rect x="585.800" y="274.800" width="69" height="21.300" rx="2" fill="url(#gSteelH)" stroke="#18212f" stroke-width="2.4" stroke-linejoin="round"/><rect x="591" y="279" width="58" height="3" fill="#dfe4ea" opacity=".7"/><rect x="546.500" y="346" width="12" height="36.500" rx="1.500" fill="url(#gSteelV)" stroke="#18212f" stroke-width="2.4" stroke-linejoin="round"/><rect x="557" y="332.700" width="11.500" height="61.500" rx="1.500" fill="url(#gSteelV)" stroke="#18212f" stroke-width="2.4" stroke-linejoin="round"/><path d="M572 314 H657 L644.500 325 L649.500 335 L641 346 L660 358.500 L644 366.500 L671 364 L662 380 L667 391 L661 398 L668.500 407.500 H567 V319 Q567 314 572 314 Z" fill="url(#gSteel)" stroke="#18212f" stroke-width="2.4" stroke-linejoin="round"/><path d="M571 318 V404" stroke="#d5dbe3" stroke-width="3" opacity=".8"/><circle cx="576.800" cy="323.300" r="2.300" fill="#2a3342"/><path d="M616.7 331.8 L617.3 324.1 L627.3 324.1 L627.9 331.8 L636.3 334.5 L641.3 328.7 L649.4 334.5 L645.3 341.1 L650.5 348.2 L658.0 346.4 L661.1 355.9 L654.0 358.9 L654.0 367.7 L661.1 370.7 L658.0 380.2 L650.5 378.4 L645.3 385.5 L649.4 392.1 L641.3 397.9 L636.3 392.1 L627.9 394.8 L627.3 402.5 L617.3 402.5 L616.7 394.8 L608.3 392.1 L603.3 397.9 L595.2 392.1 L599.3 385.5 L594.1 378.4 L586.6 380.2 L583.5 370.7 L590.6 367.7 L590.6 358.9 L583.5 355.9 L586.6 346.4 L594.1 348.2 L599.3 341.1 L595.2 334.5 L603.3 328.7 L608.3 334.5 Z" fill="#c3cad4" stroke="#18212f" stroke-width="2.4" stroke-linejoin="round"/><circle cx="622.300" cy="363.300" r="29" fill="none" stroke="#dfe4ea" stroke-width="3"/><circle cx="622.300" cy="363.300" r="23.500" fill="#7f8a99" stroke="#18212f" stroke-width="2.4" stroke-linejoin="round"/><path d="M625.500 367 L637 339.500 L633 333 L644.500 325 L657 314.500 L651 334.500 L661 345 L645 357 Z" fill="#bcc4cf" stroke="#18212f" stroke-width="2.4" stroke-linejoin="round"/><path d="M637 339.500 L644 322" stroke="#18212f" stroke-width="1.800"/><path d="M558 408 H670 L673 414 L668 421 L672 428 H558 Z" fill="url(#gSteelH)" stroke="#18212f" stroke-width="2.4" stroke-linejoin="round"/><rect x="562" y="411" width="104" height="4" fill="#dfe4ea" opacity=".65"/><path d="M678 355.800 H706 V428.500 H683.500 L681 418 L684 409 L671.500 387 L686 371 Z" fill="url(#gSteel)" stroke="#18212f" stroke-width="2.4" stroke-linejoin="round"/><rect x="706" y="379.600" width="15.500" height="31" fill="url(#gSteelV)" stroke="#18212f" stroke-width="2.4" stroke-linejoin="round"/><rect x="721.500" y="388.700" width="17" height="12.800" fill="url(#gSteelV)" stroke="#18212f" stroke-width="2.4" stroke-linejoin="round"/><path d="M544 429.700 H740.500" stroke="#18212f" stroke-width="2.800" stroke-linecap="round"/><path d="M714.200 258 L758.500 333 H669.500 Z" fill="#e4574b" stroke="#3a1a1c" stroke-width="9.500" stroke-linejoin="round"/><path d="M714.200 258 L758.500 333 H669.500 Z" fill="#e4574b" stroke="#e4574b" stroke-width="5.500" stroke-linejoin="round"/><path d="M714.200 266 L751.500 329 H677 Z" fill="url(#gWarn)" stroke="url(#gWarn)" stroke-width="2" stroke-linejoin="round"/><path d="M709.200 284 Q714.200 279 719.300 284 L717 309.500 Q714.200 312.500 711.500 309.500 Z" fill="#17151a"/><circle cx="714.200" cy="318.800" r="5" fill="#17151a"/><rect x="773.500" y="252.500" width="134" height="114.500" rx="7" fill="#eef3f8" stroke="#18212f" stroke-width="2.4"/><path d="M786.500 265 V353.500 H895.500" fill="none" stroke="#18212f" stroke-width="2.4" stroke-linecap="round"/><rect x="797" y="301" width="14.600" height="52.5" fill="#86afe0" stroke="#18212f" stroke-width="2.2"/><rect x="823" y="322.5" width="14.600" height="31" fill="#86afe0" stroke="#18212f" stroke-width="2.2"/><rect x="848.7" y="334" width="14.600" height="19.5" fill="#86afe0" stroke="#18212f" stroke-width="2.2"/><path d="M800 278.800 L834 311 L847.800 303.500 L882 340" fill="none" stroke="#e4604e" stroke-width="4" stroke-linejoin="miter" stroke-linecap="round"/><path d="M890 348 L874 343.500 L886 332 Z" fill="#e4604e"/><text x="837.0" y="289.6" font-size="27.5" textLength="54.0" fill="#161616" class="t">性能</text><path d="M771.500 426.800 A19 19 0 1 1 780 431.500 L767 434.500 Z" fill="url(#gChk)" stroke="#18212f" stroke-width="2.4" stroke-linejoin="round"/><path d="M849.400 426.800 A19 19 0 1 0 840.900 431.500 L853.900 434.500 Z" fill="url(#gChk)" stroke="#18212f" stroke-width="2.4" stroke-linejoin="round"/><path d="M775 412.800 L782 419.800 L795 406.600" fill="none" stroke="#3a8c66" stroke-width="3.800" stroke-linecap="round" stroke-linejoin="round"/><path d="M826.700 412.800 L833.700 419.800 L846.700 406.600" fill="none" stroke="#3a8c66" stroke-width="3.800" stroke-linecap="round" stroke-linejoin="round"/><path d="M691 527 V505.6 Q691 484.6 712 484.6 H720 Q741 484.6 741 505.6 V527" fill="url(#gPerson)" stroke="#18212f" stroke-width="2.600" stroke-linejoin="round" stroke-linecap="round"/><path d="M701 503.68 V527 M731 503.68 V527" stroke="#18212f" stroke-width="2" stroke-linecap="round"/><circle cx="716.3" cy="464.2" r="15" fill="url(#gPerson)" stroke="#18212f" stroke-width="2.600"/><path d="M862 527 V505.6 Q862 484.6 883 484.6 H891 Q912 484.6 912 505.6 V527" fill="url(#gPerson)" stroke="#18212f" stroke-width="2.600" stroke-linejoin="round" stroke-linecap="round"/><path d="M872 503.68 V527 M902 503.68 V527" stroke="#18212f" stroke-width="2" stroke-linecap="round"/><circle cx="886" cy="464.2" r="15" fill="url(#gPerson)" stroke="#18212f" stroke-width="2.600"/><path d="M776 500 V493.84 Q776 472 797.84 472 H806.16 Q828 472 828 493.84 V500" fill="url(#gPerson)" stroke="#18212f" stroke-width="2.600" stroke-linejoin="round" stroke-linecap="round"/><circle cx="802.3" cy="451.8" r="15.6" fill="url(#gPerson)" stroke="#18212f" stroke-width="2.600"/><path d="M731.5 539.5 V506.1 Q731.5 483 754.6 483 H763.4 Q786.5 483 786.5 506.1 V539.5 Z" fill="#fff" stroke="#fff" stroke-width="8" stroke-linejoin="round"/><circle cx="759.8" cy="462.4" r="20.3" fill="#fff"/><path d="M731.5 539.5 V506.1 Q731.5 483 754.6 483 H763.4 Q786.5 483 786.5 506.1 V539.5" fill="url(#gPerson)" stroke="#18212f" stroke-width="2.600" stroke-linejoin="round" stroke-linecap="round"/><path d="M742.5 508.425 V539.5 M775.5 508.425 V539.5" stroke="#18212f" stroke-width="2" stroke-linecap="round"/><circle cx="759.8" cy="462.4" r="16.3" fill="url(#gPerson)" stroke="#18212f" stroke-width="2.600"/><path d="M818 539.5 V506.1 Q818 483 841.1 483 H849.9 Q873 483 873 506.1 V539.5 Z" fill="#fff" stroke="#fff" stroke-width="8" stroke-linejoin="round"/><circle cx="844.5" cy="462.4" r="20.3" fill="#fff"/><path d="M818 539.5 V506.1 Q818 483 841.1 483 H849.9 Q873 483 873 506.1 V539.5" fill="url(#gPerson)" stroke="#18212f" stroke-width="2.600" stroke-linejoin="round" stroke-linecap="round"/><path d="M829 508.425 V539.5 M862 508.425 V539.5" stroke="#18212f" stroke-width="2" stroke-linecap="round"/><circle cx="844.5" cy="462.4" r="16.3" fill="url(#gPerson)" stroke="#18212f" stroke-width="2.600"/><path d="M771.5 552.5 V533 Q771.5 509 795.5 509 H808.5 Q832.5 509 832.5 533 V552.5 Z" fill="#fff" stroke="#fff" stroke-width="8" stroke-linejoin="round"/><circle cx="802" cy="490.8" r="20.3" fill="#fff"/><path d="M771.5 552.5 V533 Q771.5 509 795.5 509 H808.5 Q832.5 509 832.5 533 V552.5" fill="#5b8fd6" stroke="#18212f" stroke-width="2.600" stroke-linejoin="round" stroke-linecap="round"/><circle cx="802" cy="490.8" r="16.3" fill="#5b8fd6" stroke="#18212f" stroke-width="2.600"/><rect x="686" y="515" width="230" height="30" fill="#f5f8fb" opacity="0"/><path d="M549 466 V550 H671.500" fill="none" stroke="#18212f" stroke-width="2.400" stroke-linecap="round"/><rect x="562.7" y="526.5" width="15" height="22" fill="url(#gGrowBar)"/><rect x="588" y="509" width="15" height="39.5" fill="url(#gGrowBar)"/><rect x="614" y="489" width="15" height="59.5" fill="url(#gGrowBar)"/><rect x="639.7" y="495" width="15" height="53.5" fill="url(#gGrowBar)"/><path d="M561.300 533.200 L590.300 504.200 L605.300 513.300 L617.600 483.300 L639.100 495.100 L655.500 477.500" fill="none" stroke="url(#gRedLine)" stroke-width="4.600" stroke-linejoin="round" stroke-linecap="round"/><path d="M662.500 470.500 L660.500 482.500 L651 473 Z" fill="#b08d95" stroke="#b08d95" stroke-width="1.500" stroke-linejoin="round"/></g>
<g id="p3"><path d="M1112.5 306.600 L1139 304.8 L1139 308.4 Z" fill="url(#gSpR)"/><path d="M1094 317 L1125 315.2 L1125 318.8 Z" fill="url(#gSpR)"/><path d="M1055 335.2 L1114.5 333 L1114.5 337.4 Z" fill="url(#gSpB)"/><path d="M1021 349.6 L1103 347.4 L1103 351.8 Z" fill="url(#gSpB)"/><path d="M1048 364 L1090 362 L1090 366 Z" fill="url(#gSpB)"/><path d="M1052 378.4 L1094 376.4 L1094 380.4 Z" fill="url(#gSpB)"/><path d="M1036.5 435.6 L1095 433.6 L1095 437.6 Z" fill="url(#gSpD)"/><path d="M1014 448.5 L1087.5 446.5 L1087.5 450.5 Z" fill="url(#gSpD)"/><path d="M1041 462.3 L1080 460.3 L1080 464.3 Z" fill="url(#gSpD)"/><ellipse cx="1185" cy="551" rx="165" ry="6" fill="#98a6bb" opacity=".4" filter="url(#fBlur3)"/><path d="M1023 545 H1346.500 M1350.500 545 h4.500 M1360.500 545 h5" stroke="#141b28" stroke-width="2.800" stroke-linecap="round"/><path d="M1258.400 316 L1293.800 281.400 L1307.800 294.400 L1334 273 L1321.800 263.700 L1366.600 252.500 L1355.400 297.200 L1344.200 285 L1310.600 318.700 L1292 304.700 L1269.600 319.600 Z" fill="url(#gBlueArrow)"/><path d="M1293.800 281.400 L1307.800 294.400 L1334 273 L1321.800 263.700 L1366.600 252.500 L1355.400 297.200 L1344.200 285" fill="none" stroke="#3f84dc" stroke-width="1.400" stroke-linejoin="round" opacity=".55"/><path d="M1252.9 377.5 L1253.7 369.7 L1266.7 369.7 L1267.5 377.5 L1277.4 381.6 L1283.5 376.7 L1292.7 385.9 L1287.8 392.0 L1291.9 401.9 L1299.7 402.7 L1299.7 415.7 L1291.9 416.5 L1287.8 426.4 L1292.7 432.5 L1283.5 441.7 L1277.4 436.8 L1267.5 440.9 L1266.7 448.7 L1253.7 448.7 L1252.9 440.9 L1243.0 436.8 L1236.9 441.7 L1227.7 432.5 L1232.6 426.4 L1228.5 416.5 L1220.7 415.7 L1220.7 402.7 L1228.5 401.9 L1232.6 392.0 L1227.7 385.9 L1236.9 376.7 L1243.0 381.6 Z" fill="url(#gGear)" stroke="#16233a" stroke-width="2.400" stroke-linejoin="round"/><circle cx="1260.200" cy="409.200" r="27" fill="none" stroke="#8cc0f3" stroke-width="4"/><circle cx="1260.200" cy="409.200" r="20" fill="#f6f9fc" stroke="#16233a" stroke-width="2.400" stroke-linejoin="round"/><path d="M1261.1 421.1 L1262.8 417.4 L1268.7 419.5 L1267.6 423.5 L1271.7 427.3 L1275.6 425.8 L1278.2 431.5 L1274.6 433.5 L1274.9 439.1 L1278.6 440.8 L1276.5 446.7 L1272.5 445.6 L1268.7 449.7 L1270.2 453.6 L1264.5 456.2 L1262.5 452.6 L1256.9 452.9 L1255.2 456.6 L1249.3 454.5 L1250.4 450.5 L1246.3 446.7 L1242.4 448.2 L1239.8 442.5 L1243.4 440.5 L1243.1 434.9 L1239.4 433.2 L1241.5 427.3 L1245.5 428.4 L1249.3 424.3 L1247.8 420.4 L1253.5 417.8 L1255.5 421.4 Z" fill="#5b9be6" stroke="#16233a" stroke-width="2.400" stroke-linejoin="round"/><path d="M1310.9 358.5 L1311.9 353.8 L1318.1 354.9 L1317.5 359.7 L1321.9 362.5 L1326.0 359.9 L1329.6 365.1 L1325.7 368.0 L1326.9 373.1 L1331.6 374.1 L1330.5 380.3 L1325.7 379.7 L1322.9 384.1 L1325.5 388.2 L1320.3 391.8 L1317.4 387.9 L1312.3 389.1 L1311.3 393.8 L1305.1 392.7 L1305.7 387.9 L1301.3 385.1 L1297.2 387.7 L1293.6 382.5 L1297.5 379.6 L1296.3 374.5 L1291.6 373.5 L1292.7 367.3 L1297.5 367.9 L1300.3 363.5 L1297.7 359.4 L1302.9 355.8 L1305.8 359.7 Z" fill="url(#gGear)" stroke="#16233a" stroke-width="2.400" stroke-linejoin="round"/><circle cx="1311.600" cy="373.800" r="11.500" fill="none" stroke="#8cc0f3" stroke-width="2.500"/><circle cx="1311.600" cy="373.800" r="7.500" fill="#f6f9fc" stroke="#16233a" stroke-width="2.400" stroke-linejoin="round"/><path d="M1328.1 395.6 L1328.5 389.5 L1337.5 389.5 L1337.9 395.6 L1345.1 398.6 L1349.7 394.5 L1356.1 400.9 L1352.0 405.5 L1355.0 412.7 L1361.1 413.1 L1361.1 422.1 L1355.0 422.5 L1352.0 429.7 L1356.1 434.3 L1349.7 440.7 L1345.1 436.6 L1337.9 439.6 L1337.5 445.7 L1328.5 445.7 L1328.1 439.6 L1320.9 436.6 L1316.3 440.7 L1309.9 434.3 L1314.0 429.7 L1311.0 422.5 L1304.9 422.1 L1304.9 413.1 L1311.0 412.7 L1314.0 405.5 L1309.9 400.9 L1316.3 394.5 L1320.9 398.6 Z" fill="url(#gGear)" stroke="#16233a" stroke-width="2.400" stroke-linejoin="round"/><circle cx="1333" cy="417.600" r="18" fill="none" stroke="#8cc0f3" stroke-width="3"/><circle cx="1333" cy="417.600" r="13" fill="#f6f9fc" stroke="#16233a" stroke-width="2.400" stroke-linejoin="round"/><path d="M1218 438.500 H1359.500 L1347.500 497 Q1346.300 503 1340 503 H1238 Q1232.500 503 1231 497 Z" fill="url(#gCart)" stroke="#141b28" stroke-width="2.4" stroke-linejoin="round" stroke-linecap="round"/><path d="M1225.500 445 H1352 L1342 493 Q1341 497 1337 497 H1241 Q1237 497 1236 493 Z" fill="#c3cad4" stroke="#dfe4ea" stroke-width="1.600" opacity=".9"/><rect x="1215.800" y="428.700" width="150.700" height="9.200" rx="4.600" fill="#d3d9e1" stroke="#141b28" stroke-width="2.4" stroke-linejoin="round" stroke-linecap="round"/><text x="1236.8" y="482.3" font-size="33.1" textLength="97.8" fill="#15161a" class="t">新方式</text><path d="M1188 400.500 Q1204 396.500 1208.500 410 L1228.500 505 Q1230.500 516.800 1242 516.800 H1342" fill="none" stroke="#141b28" stroke-width="9.600" stroke-linecap="round" stroke-linejoin="round"/><path d="M1188 400.500 Q1204 396.500 1208.500 410 L1228.500 505 Q1230.500 516.800 1242 516.800 H1342" fill="none" stroke="#c2c9d3" stroke-width="5.200" stroke-linecap="round" stroke-linejoin="round"/><path d="M1192 399 Q1203.500 397.500 1206.500 408 L1226 498" fill="none" stroke="#e6eaef" stroke-width="1.600" stroke-linecap="round" opacity=".9"/><circle cx="1248.5" cy="531.600" r="12.400" fill="#8b95a4" stroke="#141b28" stroke-width="2.4" stroke-linejoin="round" stroke-linecap="round"/><circle cx="1248.5" cy="531.600" r="5.600" fill="#f4f6f9" stroke="#141b28" stroke-width="2.4" stroke-linejoin="round" stroke-linecap="round"/><circle cx="1322.7" cy="531.600" r="12.400" fill="#8b95a4" stroke="#141b28" stroke-width="2.4" stroke-linejoin="round" stroke-linecap="round"/><circle cx="1322.7" cy="531.600" r="5.600" fill="#f4f6f9" stroke="#141b28" stroke-width="2.4" stroke-linejoin="round" stroke-linecap="round"/><path d="M1109 410 C1102 440 1097 455 1092.500 466 L1052.600 507.900 L1069.400 518.800 L1127 468 C1136 455 1143 445 1156 420 Z" fill="url(#gPants)" stroke="#141b28" stroke-width="2.4" stroke-linejoin="round" stroke-linecap="round"/><path d="M1052.600 507.900 L1041.700 516.800 C1046 526 1051 535 1057.500 541.500 C1063 543.500 1070 543.500 1075.300 542.500 C1076 538 1074 535 1070 531.500 L1063.400 526.700 L1069.400 518.800 Z" fill="#3a4353" stroke="#141b28" stroke-width="2.4" stroke-linejoin="round" stroke-linecap="round"/><path d="M1142 420 C1150 450 1157 466 1162.400 479.200 L1152.500 527 L1174.500 529 C1182 505 1190 480 1196 461.400 C1190 447 1182 435 1176 415 Z" fill="url(#gPants)" stroke="#141b28" stroke-width="2.4" stroke-linejoin="round" stroke-linecap="round"/><path d="M1152.300 527 L1152 541.500 Q1152 543.700 1154.500 543.700 H1194 Q1197.500 543.700 1197 540.500 C1195.500 536.500 1189 534.500 1182 532.500 L1174.500 529 Z" fill="#3a4353" stroke="#141b28" stroke-width="2.4" stroke-linejoin="round" stroke-linecap="round"/><path d="M1163 321 L1139 327.500 C1131 338 1122 356 1115 378 L1097 407.500 L1140 430 L1176.500 422 L1182.500 392 L1197 346 L1190 330 Z" fill="url(#gSuit)" stroke="#141b28" stroke-width="2.4" stroke-linejoin="round" stroke-linecap="round"/><path d="M1125.500 403 L1137 409.500 L1140 404" fill="none" stroke="#141b28" stroke-width="1.800" stroke-linecap="round" stroke-linejoin="round"/><path d="M1187 331 C1215 328.500 1245 327.500 1268.500 326.800 L1270 342.500 C1245 346 1220 350.500 1199 356.500 L1191 347 Z" fill="url(#gSuit)" stroke="#141b28" stroke-width="2.4" stroke-linejoin="round" stroke-linecap="round"/><path d="M1196 336 C1220 333 1245 332 1266 331" stroke="#6d7b91" stroke-width="2" fill="none" stroke-linecap="round" opacity=".8"/><path d="M1268.600 326.500 L1275 326 L1276 341.500 L1270 342.500 Z" fill="#fff" stroke="#141b28" stroke-width="2.4" stroke-linejoin="round" stroke-linecap="round"/><path d="M1275 326.500 C1283 322.500 1296 323 1306 322.500 C1310 322.600 1310 327.300 1306 327.600 L1294 329.500 C1299 331 1299.500 338 1294 340.500 C1288 343.500 1280 342.500 1276 341.500 Z" fill="#f7caa6" stroke="#141b28" stroke-width="2.4" stroke-linejoin="round" stroke-linecap="round"/><path d="M1288 334 C1291 331.500 1294.500 333 1294 336.500 M1283.500 333 C1285.500 336 1288 337 1291 337" fill="none" stroke="#141b28" stroke-width="1.500" stroke-linecap="round"/><path d="M1165 321.500 L1169.500 346 L1186 344 L1190 331.500 L1183 322.500 Z" fill="#fdfdfd" stroke="#141b28" stroke-width="2.4" stroke-linejoin="round" stroke-linecap="round"/><path d="M1172.500 337.500 L1179.500 335.500 L1182 341.500 L1178.500 371 L1170.500 384.500 L1168.500 372 L1173.500 344 Z" fill="#d9583c" stroke="#141b28" stroke-width="2.4" stroke-linejoin="round" stroke-linecap="round"/><path d="M1163 321 L1157 338 L1162 340 L1158.500 345 L1170.500 386 L1168 346 Z" fill="#4a5568" stroke="#141b28" stroke-width="2.4" stroke-linejoin="round" stroke-linecap="round"/><path d="M1190 330 L1192 341 L1187.500 342.500 L1190.500 347 L1170.500 386 L1184 346 Z" fill="#4a5568" stroke="#141b28" stroke-width="2.4" stroke-linejoin="round" stroke-linecap="round"/><path d="M1140 327 C1132 338 1118 358 1107.500 373 C1105 378 1107 382 1111 384 L1156 407 L1163 391 L1127.500 372.500 L1155 339 Z" fill="url(#gSuit)" stroke="#141b28" stroke-width="2.4" stroke-linejoin="round" stroke-linecap="round"/><path d="M1127.500 372.500 L1121 369" stroke="#141b28" stroke-width="1.800" stroke-linecap="round"/><path d="M1156 407 L1159 408.500 L1166 392.500 L1163 391 Z" fill="#fff" stroke="#141b28" stroke-width="2.4" stroke-linejoin="round" stroke-linecap="round"/><path d="M1160 406 C1159 398 1163 392.500 1170 392 C1178 391.500 1184 393.500 1186.500 397 L1187 404.500 C1184 409 1176 410 1170 408.500 C1166 411 1160.500 410 1160 406 Z" fill="#f7caa6" stroke="#141b28" stroke-width="2.4" stroke-linejoin="round" stroke-linecap="round"/><path d="M1181.500 394 L1181 407.500 M1184.500 395 L1184.300 406.500" stroke="#141b28" stroke-width="1.300"/><circle cx="1164.500" cy="407" r="3.400" fill="#4a5a78" stroke="#141b28" stroke-width="1.600"/><path d="M1158.500 297 H1172 V315 C1166 312.500 1161 306 1158.500 297 Z" fill="#33435d" stroke="#141b28" stroke-width="2.4" stroke-linejoin="round" stroke-linecap="round"/><path d="M1170.500 297 L1170.500 313 C1171.500 320.500 1178 326 1188 325.700 C1193 325.600 1197 323.500 1198.500 320 L1197.200 316.800 L1200.500 315.800 L1200 312 L1207.500 309.800 L1202.500 302 L1203 297 Z" fill="#f8d1b0" stroke="#141b28" stroke-width="2.4" stroke-linejoin="round" stroke-linecap="round"/><ellipse cx="1174.300" cy="304.500" rx="3.300" ry="4.800" fill="#f3c19c" stroke="#141b28" stroke-width="1.800"/><path d="M1179 298 C1178 309 1181.500 320 1188.500 325.500" fill="none" stroke="#141b28" stroke-width="2.200"/><ellipse cx="1197.300" cy="300.800" rx="1.700" ry="2.200" fill="#141b28"/><path d="M1193.500 297.500 L1200.500 298.600" stroke="#141b28" stroke-width="1.600" stroke-linecap="round"/><path d="M1193.500 317.700 L1199 316.600" stroke="#141b28" stroke-width="1.800" stroke-linecap="round"/><path d="M1152 291 C1151.500 270 1164 257.300 1181 257.300 C1198 257.300 1210.500 270 1210.800 290 Z" fill="url(#gHelmet)" stroke="#141b28" stroke-width="2.4" stroke-linejoin="round" stroke-linecap="round"/><path d="M1160 276 C1162 268 1168 263 1176 262" fill="none" stroke="#fbd486" stroke-width="3.500" stroke-linecap="round" opacity=".8"/><path d="M1149.300 294.500 C1149 290.500 1151 289.300 1155 289.300 L1207 288.500 C1213 288.500 1217.500 290.500 1219.200 293.200 C1218 296.500 1214 298 1208 298.200 L1156 299 C1151.500 299 1149.600 297.500 1149.300 294.500 Z" fill="#f8c964" stroke="#141b28" stroke-width="2.4" stroke-linejoin="round" stroke-linecap="round"/></g>
<g id="p4"><path d="M1479.0 314.7 A62 62 0 0 1 1603.0 314.7 L1577.4 314.7 A36.4 36.4 0 0 0 1504.6 314.7 Z" fill="#b9c1cc" stroke="#16202f" stroke-width="2.400" stroke-linejoin="round" stroke-linecap="round"/><path d="M1504.6 314.7 A36.400 36.400 0 0 1 1577.4 314.7 Z" fill="#f4f7fa"/><path d="M1487.0 314.7 A54 54 0 0 1 1501.5 277.9 L1514.4 289.9 A36.4 36.4 0 0 0 1504.6 314.7 Z" fill="#3f9be0" stroke="#16202f" stroke-width="2" stroke-linejoin="round"/><path d="M1501.5 277.9 A54 54 0 0 1 1541.0 260.7 L1541.0 278.3 A36.4 36.4 0 0 0 1514.4 289.9 Z" fill="#84d063" stroke="#16202f" stroke-width="2" stroke-linejoin="round"/><path d="M1541.0 260.7 A54 54 0 0 1 1580.5 277.9 L1567.6 289.9 A36.4 36.4 0 0 0 1541.0 278.3 Z" fill="#f6b54c" stroke="#16202f" stroke-width="2" stroke-linejoin="round"/><path d="M1580.5 277.9 A54 54 0 0 1 1595.0 314.7 L1577.4 314.7 A36.4 36.4 0 0 0 1567.6 289.9 Z" fill="#e8594a" stroke="#16202f" stroke-width="2" stroke-linejoin="round"/><path d="M1479.0 314.7 A62 62 0 0 1 1603.0 314.7 L1577.4 314.7 A36.4 36.4 0 0 0 1504.6 314.7 Z" fill="none" stroke="#16202f" stroke-width="2.400" stroke-linejoin="round" stroke-linecap="round"/><path d="M1536.500 307.500 L1570 281.500 L1546 316.500 Z" fill="#4b5563" stroke="#16202f" stroke-width="2.400" stroke-linejoin="round" stroke-linecap="round"/><circle cx="1540.500" cy="312.500" r="7.200" fill="#4b5563" stroke="#16202f" stroke-width="2.400" stroke-linejoin="round" stroke-linecap="round"/><circle cx="1653.8" cy="278.3" r="31.400" fill="url(#gFace)" stroke="#16202f" stroke-width="2.400" stroke-linejoin="round" stroke-linecap="round"/><path d="M1623.8 278.3 A30 30 0 0 1 1627.8 263.3 L1636.9 268.6 A19.5 19.5 0 0 0 1634.3 278.3 Z" fill="#4aa6e0"/><path d="M1627.8 263.3 A30 30 0 0 1 1652.8 248.3 L1653.1 258.8 A19.5 19.5 0 0 0 1636.9 268.6 Z" fill="#84d070"/><path d="M1652.8 248.3 A30 30 0 0 1 1676.1 258.2 L1668.3 265.3 A19.5 19.5 0 0 0 1653.1 258.8 Z" fill="#f6b95a"/><path d="M1676.1 258.2 A30 30 0 0 1 1683.8 278.3 L1673.3 278.3 A19.5 19.5 0 0 0 1668.3 265.3 Z" fill="#e8604e"/><path d="M1636.9 268.6 L1627.4 263.1" stroke="#16202f" stroke-width="1.800"/><path d="M1653.1 258.8 L1652.7 247.8" stroke="#16202f" stroke-width="1.800"/><path d="M1668.3 265.3 L1676.5 257.9" stroke="#16202f" stroke-width="1.800"/><path d="M1623.3 278.8 h10.500 M1684.3 278.8 h-10.500" stroke="#16202f" stroke-width="1.800"/><circle cx="1653.8" cy="278.3" r="31.400" fill="none" stroke="#16202f" stroke-width="2.400" stroke-linejoin="round" stroke-linecap="round"/><path d="M1650.8 275.8 L1666.500 266.500 L1656.8 280.8 Z" fill="#4a4a6a" stroke="#16202f" stroke-width="2.400" stroke-linejoin="round" stroke-linecap="round"/><circle cx="1653.8" cy="278.3" r="4.200" fill="#4a4a6a" stroke="#16202f" stroke-width="2.400" stroke-linejoin="round" stroke-linecap="round"/><path d="M1642.600 294.200 H1666" stroke="#16202f" stroke-width="2.400" stroke-linecap="round"/><rect x="1729.5" y="287.8" width="14.200" height="63" fill="url(#gErrBar)" opacity=".9"/><rect x="1752.8" y="310" width="14.200" height="40.8" fill="url(#gErrBar)" opacity=".9"/><rect x="1775.8" y="315.5" width="14.200" height="35.3" fill="url(#gErrBar)" opacity=".9"/><rect x="1799" y="328.7" width="14.200" height="22.1" fill="url(#gErrBar)" opacity=".9"/><rect x="1822.7" y="343" width="14.200" height="7.8" fill="url(#gErrBar)" opacity=".9"/><path d="M1719 252 V352 H1845" fill="none" stroke="#16202f" stroke-width="2.600" stroke-linecap="round" stroke-linejoin="round"/><path d="M1729 266 L1762.400 299.700 L1792 293.700 L1827 330" fill="none" stroke="#e8604c" stroke-width="3.400" stroke-linejoin="round" stroke-linecap="round"/><path d="M1836 339 L1821.500 334 L1832.500 323.500 Z" fill="#e8604c"/><text x="1765.0" y="279.6" font-size="27.6" textLength="81.0" fill="#161616" class="t">错误率</text><circle cx="1535.800" cy="367.800" r="13" fill="none" stroke="#16202f" stroke-width="7"/><circle cx="1535.800" cy="367.800" r="13" fill="none" stroke="#aab3bf" stroke-width="2.600"/><rect x="1528.800" y="368.500" width="15" height="17" rx="1.500" fill="#9fb4ba" stroke="#16202f" stroke-width="2.400" stroke-linejoin="round" stroke-linecap="round"/><rect x="1526.500" y="366.500" width="19.500" height="7" rx="1.500" fill="#b5c4c8" stroke="#16202f" stroke-width="2.400" stroke-linejoin="round" stroke-linecap="round"/><g transform="translate(1503.6 385.6) rotate(-38)"><rect x="-3" y="0" width="6" height="12" fill="#9aa3b0" stroke="#16202f" stroke-width="2.400" stroke-linejoin="round" stroke-linecap="round"/><rect x="-7.500" y="-6.500" width="15" height="8" rx="1.500" fill="#aeb7c3" stroke="#16202f" stroke-width="2.400" stroke-linejoin="round" stroke-linecap="round"/></g><g transform="translate(1568.9 384.6) rotate(38)"><rect x="-3" y="0" width="6" height="12" fill="#9aa3b0" stroke="#16202f" stroke-width="2.400" stroke-linejoin="round" stroke-linecap="round"/><rect x="-7.500" y="-6.500" width="15" height="8" rx="1.500" fill="#aeb7c3" stroke="#16202f" stroke-width="2.400" stroke-linejoin="round" stroke-linecap="round"/></g><circle cx="1536" cy="431" r="47" fill="#9aa3b0" stroke="#16202f" stroke-width="2.400" stroke-linejoin="round" stroke-linecap="round"/><circle cx="1536" cy="431" r="43.500" fill="none" stroke="#c7ced7" stroke-width="2.400"/><circle cx="1536" cy="431" r="38.500" fill="url(#gFace)" stroke="#16202f" stroke-width="2.400" stroke-linejoin="round" stroke-linecap="round"/><path d="M1536 431 V393.7 A37.300 37.300 0 0 1 1560.0 459.6 Z" fill="url(#gWedge)" opacity=".92"/><path d="M1536.0 401.5 L1536.0 396.5 M1550.8 405.5 L1553.2 401.1 M1561.5 416.2 L1565.9 413.8 M1565.5 431.0 L1570.5 431.0 M1561.5 445.8 L1565.9 448.2 M1550.8 456.5 L1553.2 460.9 M1536.0 460.5 L1536.0 465.5 M1521.2 456.5 L1518.8 460.9 M1510.5 445.8 L1506.1 448.2 M1506.5 431.0 L1501.5 431.0 M1510.5 416.2 L1506.1 413.8 M1521.2 405.5 L1518.8 401.1 " stroke="#16202f" stroke-width="2" stroke-linecap="round"/><path d="M1532 436 L1556 410 L1539.500 426.500" fill="#4b5563" stroke="#16202f" stroke-width="3.200" stroke-linejoin="round" stroke-linecap="round"/><path d="M1536 431 L1529.500 438" stroke="#16202f" stroke-width="4" stroke-linecap="round"/><circle cx="1536" cy="431" r="4.200" fill="#8d97a6" stroke="#16202f" stroke-width="2.400" stroke-linejoin="round" stroke-linecap="round"/><path d="M1640.500 356 C1637 349 1634 342 1634.500 337 C1639 336 1642 338.500 1645 340.500 C1647 337 1650 335 1654.500 334.500 C1659 335 1662 337 1664 340.500 C1667 338.500 1670 336.500 1674.300 337 C1674.500 343 1671 350 1667.500 356 Z" fill="url(#gBag)" stroke="#16202f" stroke-width="2.400" stroke-linejoin="round" stroke-linecap="round"/><path d="M1641 357 C1627 366 1618 380 1618.500 394 C1619 413 1634 424 1654 424 C1674 424 1689.500 413 1690 394 C1690.500 380 1681 366 1667.500 357 Z" fill="url(#gBag)" stroke="#16202f" stroke-width="2.400" stroke-linejoin="round" stroke-linecap="round"/><path d="M1627 382 C1629 372 1636 365 1643 362" fill="none" stroke="#fbdf98" stroke-width="3.500" stroke-linecap="round" opacity=".8"/><rect x="1638.800" y="353.600" width="30" height="5.600" rx="2.500" fill="#8f8a84" stroke="#16202f" stroke-width="2.400" stroke-linejoin="round" stroke-linecap="round"/><text x="1628.0" y="402.5" font-size="26.7" textLength="52.0" fill="#1a1712" class="t">成本</text><path d="M1819 412 C1821 408.500 1832 407.500 1836 409.500 C1840 410.500 1842.500 413 1842.700 417 L1843.500 457.500 H1815.500 L1817.300 437.200 C1812 438.500 1807 438.800 1803.700 437.500 C1802.500 436 1803 434.500 1805 433.800 C1810 432 1814 430 1817.300 427.800 Z" fill="url(#gGrayP)" stroke="#1d2735" stroke-width="2.600" stroke-linejoin="round"/><path d="M1834 409.400 C1839 410 1842.500 412.500 1842.600 417 L1843.400 435.300 H1830.400 L1831.300 416.800" fill="none" stroke="#1d2735" stroke-width="2.600" stroke-linejoin="round" stroke-linecap="round"/><rect x="1813" y="455.600" width="33" height="4.400" fill="#fbfcfd" opacity=".85"/><path d="M1818.300 390 C1818 398 1822 404.800 1827.500 404.800 C1833 404.800 1836.500 398 1836.200 389 C1831 386.500 1824 387 1818.300 390 Z" fill="#b2b8c2" stroke="#1d2735" stroke-width="2.600" stroke-linejoin="round"/><path d="M1817.800 382.500 C1822 376.800 1833.500 376.500 1836.600 381 L1836.200 389 C1831 386.500 1824 387 1818.300 390 Z" fill="#a9b0bb" stroke="#1d2735" stroke-width="2.600" stroke-linejoin="round"/><rect x="1734.3" y="419.5" width="15" height="38.3" fill="#86b9e8" stroke="#16202f" stroke-width="2.400" stroke-linejoin="round" stroke-linecap="round"/><rect x="1758.3" y="404.3" width="15" height="53.5" fill="url(#gBarT2)" stroke="#16202f" stroke-width="2.400" stroke-linejoin="round" stroke-linecap="round"/><rect x="1782.3" y="421.5" width="15" height="36.3" fill="#8eaae2" stroke="#16202f" stroke-width="2.400" stroke-linejoin="round" stroke-linecap="round"/><path d="M1728 458.500 H1815" stroke="#16202f" stroke-width="2.800" stroke-linecap="round"/><circle cx="1842.300" cy="458.800" r="1.500" fill="#1d2735"/><path d="M1741.500 400.300 L1764.800 380.300 L1787.800 404.200 L1808.700 387.800" fill="none" stroke="#16202f" stroke-width="2.400" stroke-linecap="round" stroke-linejoin="round"/><circle cx="1741.500" cy="400.300" r="5" fill="#5fc4b0" stroke="#16202f" stroke-width="2.400" stroke-linejoin="round" stroke-linecap="round"/><circle cx="1764.800" cy="380.300" r="5" fill="#5fc4b0" stroke="#16202f" stroke-width="2.400" stroke-linejoin="round" stroke-linecap="round"/><circle cx="1787.800" cy="404.200" r="5" fill="#ee6a5e" stroke="#16202f" stroke-width="2.400" stroke-linejoin="round" stroke-linecap="round"/><rect x="1489.3" y="552.8" width="14.600" height="21.2" fill="url(#gBarA)" stroke="#16202f" stroke-width="2.400" stroke-linejoin="round" stroke-linecap="round"/><rect x="1514.8" y="542.3" width="14.600" height="31.7" fill="url(#gBarA)" stroke="#16202f" stroke-width="2.400" stroke-linejoin="round" stroke-linecap="round"/><rect x="1540" y="529.2" width="14.600" height="44.8" fill="url(#gBarA)" stroke="#16202f" stroke-width="2.400" stroke-linejoin="round" stroke-linecap="round"/><rect x="1565.5" y="515.6" width="14.600" height="58.4" fill="url(#gBarT)" stroke="#16202f" stroke-width="2.400" stroke-linejoin="round" stroke-linecap="round"/><path d="M1481 574.700 H1588" stroke="#16202f" stroke-width="2.800" stroke-linecap="round"/><path d="M1490 534 C1520 530 1550 516 1571.500 494" fill="none" stroke="url(#gCurve)" stroke-width="3.800" stroke-linecap="round"/><path d="M1563.500 490.500 L1576.500 487.700 L1574 501" fill="none" stroke="#5fb6de" stroke-width="3.800" stroke-linecap="round" stroke-linejoin="round"/><rect x="1671" y="445" width="49.300" height="34.600" rx="2.500" fill="#edf3f9" stroke="#16202f" stroke-width="2.400" stroke-linejoin="round" stroke-linecap="round"/><path d="M1680.200 470 L1691.400 458.900 L1698.500 466 L1710.500 454.500" fill="none" stroke="#4f97dc" stroke-width="2.600" stroke-linecap="round" stroke-linejoin="round"/><path d="M1706 452.600 L1713 452 L1712.300 459 Z" fill="#4f97dc"/><path d="M1606.500 553 H1654.500 L1655 578.700 H1606.500 Z" fill="#4a5568" stroke="#16202f" stroke-width="2.400" stroke-linejoin="round" stroke-linecap="round"/><path d="M1626 570 L1629.500 578.500" stroke="#16202f" stroke-width="1.800"/><path d="M1619 483 C1610 487 1604 496 1600 506 L1592 524.500 C1591 528 1592 531 1594 533.500 L1608 556.500 H1654.500 L1653 522 L1660 508 L1652 489 C1645 484 1632 480.500 1619 483 Z" fill="url(#gShirt)" stroke="#16202f" stroke-width="2.400" stroke-linejoin="round" stroke-linecap="round"/><path d="M1605 507 L1606 540" stroke="#16202f" stroke-width="1.800" stroke-linecap="round"/><path d="M1650 489 L1672.500 512.500 L1685 486.500 L1695.500 492.500 L1679 527.500 C1677 530 1674 530.500 1671.500 529 L1648 515.500 Z" fill="url(#gShirt)" stroke="#16202f" stroke-width="2.400" stroke-linejoin="round" stroke-linecap="round"/><path d="M1685.500 486.500 C1686 478 1690 470 1695.500 464.500 C1698 464 1699 466 1698.500 468.500 L1696 475 C1699.500 479 1700 487 1695.500 492.500 Z" fill="#f6c7a2" stroke="#16202f" stroke-width="2.400" stroke-linejoin="round" stroke-linecap="round"/><path d="M1652.500 488 L1665 472.500 L1673 478.500 L1661 496 Z" fill="#aebfd8" stroke="#16202f" stroke-width="2.400" stroke-linejoin="round" stroke-linecap="round"/><path d="M1665 472.500 C1664.500 468 1667 464.500 1671 462.500 L1677 460.500 L1677.500 466 L1673.500 470 L1673 478.500 Z" fill="#f6c7a2" stroke="#16202f" stroke-width="2.400" stroke-linejoin="round" stroke-linecap="round"/><path d="M1624 472 L1623.500 484 L1640 487 L1641.500 474 Z" fill="#f3c09a" stroke="#16202f" stroke-width="2.400" stroke-linejoin="round" stroke-linecap="round"/><path d="M1620 481.500 L1641 486.500 L1640 491 L1619 486 Z" fill="#e9f0f8" stroke="#16202f" stroke-width="2.400" stroke-linejoin="round" stroke-linecap="round"/><path d="M1636 450 C1645 451 1648 459 1647 467 C1646.500 474 1642.500 478.500 1636.500 478 C1631 477.500 1628 473 1628 467 Z" fill="#f6c7a2" stroke="#16202f" stroke-width="2.400" stroke-linejoin="round" stroke-linecap="round"/><path d="M1612.500 462 C1610 450 1618 441.500 1630 440.500 C1637 438.500 1645 440.500 1647 445 C1648 449 1645.500 452.500 1642 454 C1640 458 1638.500 461 1635.500 462.500 C1636 467 1634.500 471.500 1631.500 475 C1622 476.500 1614.500 471 1612.500 462 Z" fill="#505d73" stroke="#16202f" stroke-width="2.400" stroke-linejoin="round" stroke-linecap="round"/><ellipse cx="1635.200" cy="465" rx="2.600" ry="3.800" fill="#f3c09a" stroke="#16202f" stroke-width="1.600"/><path d="M1717.3 506.6 L1735 534 H1724 V578.7 H1710.6 V534 H1699.6 Z" fill="url(#gUp)" stroke="url(#gUpS)" stroke-width="2.400" stroke-linejoin="round"/><path d="M1753.3 474.1 L1770.6 501.6 H1760.5 V578.7 H1746.1 V501.6 H1736 Z" fill="url(#gUp)" stroke="url(#gUpS)" stroke-width="2.400" stroke-linejoin="round"/><path d="M1789 572.7 L1806.3 545.2 H1795.7 V477 H1782.3 V545.2 H1771.7 Z" fill="url(#gDn)" stroke="url(#gDnS)" stroke-width="2.400" stroke-linejoin="round"/><path d="M1827 580.8 L1844.8 553.4 H1834.2 V477 H1819.8 V553.4 H1809.2 Z" fill="url(#gDn)" stroke="url(#gDnS)" stroke-width="2.400" stroke-linejoin="round"/></g>
</svg></body></html>
